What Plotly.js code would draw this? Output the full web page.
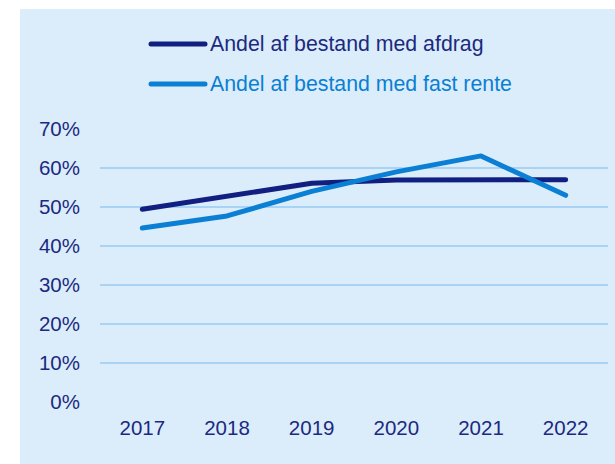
<!DOCTYPE html>
<html>
<head>
<meta charset="utf-8">
<script src="https://cdn.plot.ly/plotly-3.0.1.min.js"></script>
<style>
html,body{margin:0;padding:0;background:#ffffff;width:615px;height:464px;overflow:hidden;}
#chart{position:absolute;left:20px;top:9px;width:595px;height:455px;}
.scatterlayer path.js-line{stroke-linecap:round;stroke-linejoin:round;}
.shapelayer path{stroke-linecap:round;}
</style>
</head>
<body>
<div id="chart"></div>
<script>
var years = ['2017','2018','2019','2020','2021','2022'];
var afdrag = [49.4, 52.6, 56.1, 56.9, 57.0, 57.0];
var fastRente = [44.6, 47.7, 54.0, 59.0, 63.1, 53.0];
var seriesNames = ['Andel af bestand med afdrag', 'Andel af bestand med fast rente'];
var seriesColors = ['#111f80', '#0a7fd3'];
var yTicks = [0, 10, 20, 30, 40, 50, 60, 70];

var textColor = '#1b2a80';
var fontFam = 'Liberation Sans, Arial, sans-serif';

var seriesData = [afdrag, fastRente];
var traces = seriesData.map(function(vals, i){
  return {
    x: years, y: vals, type: 'scatter', mode: 'lines',
    name: seriesNames[i],
    line: {color: seriesColors[i], width: 5},
    showlegend: false, hoverinfo: 'skip'
  };
});

// legend drawn manually (positions in paper coords)
var legY = [1.3114, 1.1648];
var shapes = [], annotations = [];
for (var i = 0; i < seriesNames.length; i++) {
  shapes.push({type:'line', xref:'paper', yref:'paper', x0:0.1004, x1:0.2067, y0:legY[i], y1:legY[i],
    line:{color:seriesColors[i], width:5}});
  annotations.push({xref:'paper', yref:'paper', x:0.2125, y:legY[i], xanchor:'left', yanchor:'middle',
    text:seriesNames[i], showarrow:false, font:{family:fontFam, size:21.3, color: i===0 ? textColor : seriesColors[i]}});
}

var layout = {
  width: 595, height: 455,
  margin: {l:80, r:7, t:120, b:62, pad:0},
  paper_bgcolor: '#dbedfb',
  plot_bgcolor: '#dbedfb',
  font: {family: fontFam, size: 20.5, color: textColor},
  xaxis: {
    type:'category', range:[-0.5, 5.5], showgrid:false, zeroline:false, showline:false,
    ticks:'', tickfont:{size:20.5, color:textColor}, fixedrange:true, ticklabelstandoff: 11
  },
  yaxis: {
    range:[0, 70], tickvals: yTicks, ticktext: yTicks.map(function(v){return v + '%';}),
    showgrid:true, gridcolor:'#a8d3f4', gridwidth:2, zeroline:false, showline:false,
    ticks:'', tickfont:{size:20.5, color:textColor}, fixedrange:true, ticklabelstandoff: 19
  },
  shapes: shapes,
  annotations: annotations,
  showlegend: false
};

Plotly.newPlot('chart', traces, layout, {displayModeBar:false, staticPlot:true});
</script>
</body>
</html>
